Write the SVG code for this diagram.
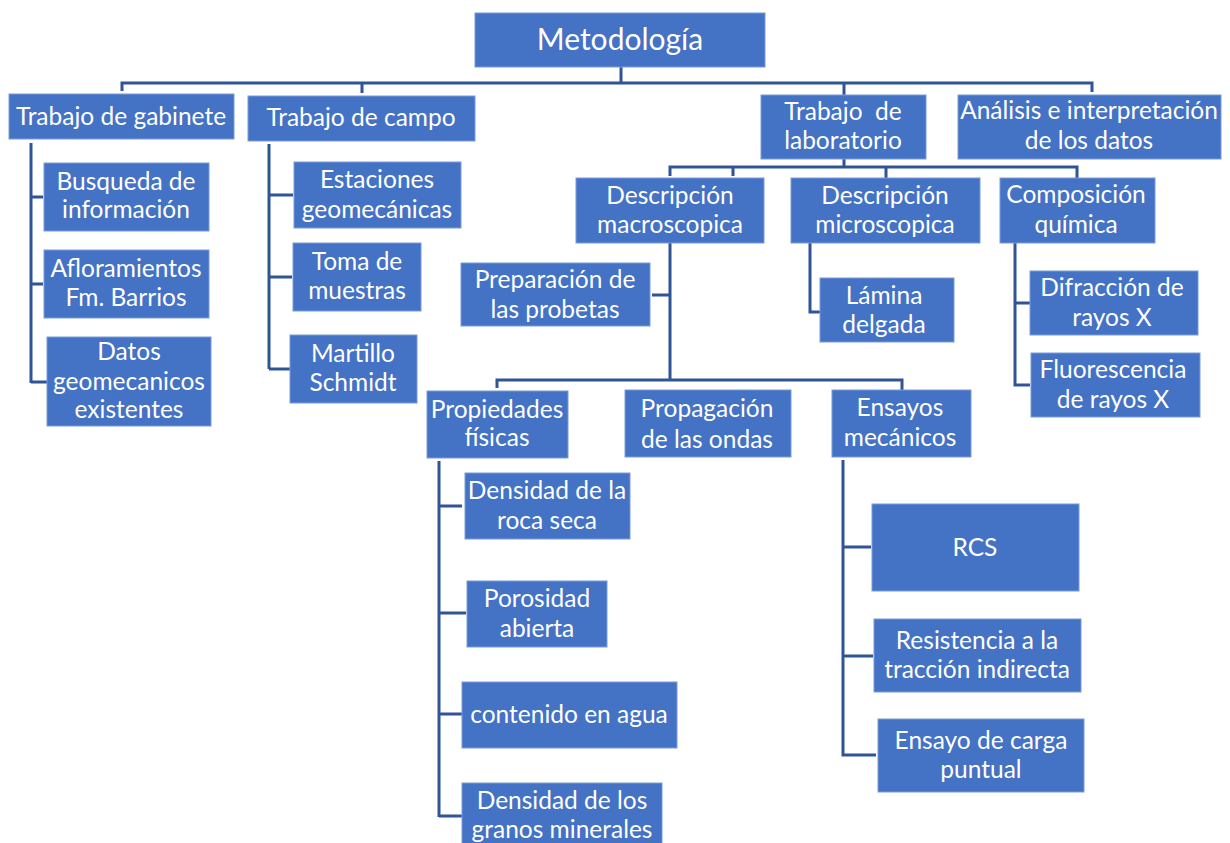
<svg xmlns="http://www.w3.org/2000/svg" width="1230" height="843" viewBox="0 0 1230 843">
<style>
.b{fill:#4472C4;stroke:#7A9CD9;stroke-width:1}
.t{fill:#fff;font-family:Lato,"Open Sans","Liberation Sans",sans-serif;font-size:24.5px;text-anchor:middle}
.c{fill:none;stroke:#2F5597;stroke-width:3}
</style>
<rect width="1230" height="843" fill="#fff"/>
<g id="connectors">
<path class="c" d="M621 67V83M122 91V83H1092V92M362 83V93M844 83V95"/>
<path class="c" d="M31 143V383M31 197H43M31 284H43M31 382H47"/>
<path class="c" d="M269 144V369M269 195H293M269 277H292M269 369H290"/>
<path class="c" d="M844 159V167M670 176V167H1077V178M733 167V176M886 167V178"/>
<path class="c" d="M670 243V380M652 295H670M497 388V380H902V390"/>
<path class="c" d="M810 243V312H820"/>
<path class="c" d="M1015 243V385H1030M1015 303H1030"/>
<path class="c" d="M439 461V817M439 506H462M439 613H466M439 714H462M439 816H462"/>
<path class="c" d="M843 460V755H876M843 547H871M843 656H873"/>
</g>
<g id="metodologia"><rect class="b" x="475" y="13" width="290" height="54"/><text class="t" x="620" y="50" style="font-size:30px">Metodología</text></g>
<g id="gabinete"><rect class="b" x="9" y="94" width="225" height="45"/><text class="t" x="121" y="125">Trabajo de gabinete</text></g>
<g id="campo"><rect class="b" x="248" y="96" width="227" height="45"/><text class="t" x="361" y="126">Trabajo de campo</text></g>
<g id="laboratorio"><rect class="b" x="761" y="95" width="165" height="64"/><text class="t" x="843" y="120" xml:space="preserve">Trabajo  de</text><text class="t" x="843" y="149">laboratorio</text></g>
<g id="analisis"><rect class="b" x="958" y="95" width="263" height="64"/><text class="t" x="1089" y="119">Análisis e interpretación</text><text class="t" x="1089" y="149">de los datos</text></g>
<g id="busqueda"><rect class="b" x="44" y="163" width="165" height="68"/><text class="t" x="126" y="190">Busqueda de</text><text class="t" x="126" y="218">información</text></g>
<g id="afloramientos"><rect class="b" x="44" y="250" width="165" height="68"/><text class="t" x="126" y="277">Afloramientos</text><text class="t" x="126" y="306">Fm. Barrios</text></g>
<g id="datos"><rect class="b" x="47" y="337" width="164" height="89"/><text class="t" x="129" y="360">Datos</text><text class="t" x="129" y="390">geomecanicos</text><text class="t" x="129" y="418">existentes</text></g>
<g id="estaciones"><rect class="b" x="294" y="162" width="167" height="66"/><text class="t" x="377" y="188">Estaciones</text><text class="t" x="377" y="218">geomecánicas</text></g>
<g id="toma"><rect class="b" x="293" y="243" width="128" height="68"/><text class="t" x="357" y="270">Toma de</text><text class="t" x="357" y="299">muestras</text></g>
<g id="martillo"><rect class="b" x="290" y="335" width="127" height="68"/><text class="t" x="353" y="362">Martillo</text><text class="t" x="353" y="391">Schmidt</text></g>
<g id="macro"><rect class="b" x="576" y="178" width="188" height="65"/><text class="t" x="670" y="204">Descripción</text><text class="t" x="670" y="233">macroscopica</text></g>
<g id="micro"><rect class="b" x="791" y="178" width="189" height="65"/><text class="t" x="885" y="204">Descripción</text><text class="t" x="885" y="233">microscopica</text></g>
<g id="quimica"><rect class="b" x="1000" y="178" width="155" height="65"/><text class="t" x="1076" y="203">Composición</text><text class="t" x="1076" y="233">química</text></g>
<g id="preparacion"><rect class="b" x="461" y="263" width="189" height="63"/><text class="t" x="555" y="288">Preparación de</text><text class="t" x="555" y="318">las probetas</text></g>
<g id="lamina"><rect class="b" x="820" y="278" width="134" height="64"/><text class="t" x="884" y="304">Lámina</text><text class="t" x="884" y="333">delgada</text></g>
<g id="difraccion"><rect class="b" x="1030" y="271" width="168" height="64"/><text class="t" x="1112" y="296">Difracción de</text><text class="t" x="1112" y="326">rayos X</text></g>
<g id="fluorescencia"><rect class="b" x="1031" y="353" width="169" height="64"/><text class="t" x="1113" y="378">Fluorescencia</text><text class="t" x="1113" y="408">de rayos X</text></g>
<g id="propiedades"><rect class="b" x="427" y="391" width="141" height="67"/><text class="t" x="497" y="418">Propiedades</text><text class="t" x="497" y="446">físicas</text></g>
<g id="propagacion"><rect class="b" x="625" y="390" width="166" height="67"/><text class="t" x="707" y="417">Propagación</text><text class="t" x="707" y="448">de las ondas</text></g>
<g id="ensayos"><rect class="b" x="832" y="390" width="139" height="67"/><text class="t" x="900" y="416">Ensayos</text><text class="t" x="900" y="446">mecánicos</text></g>
<g id="densidad-roca"><rect class="b" x="465" y="473" width="165" height="66"/><text class="t" x="547" y="499">Densidad de la</text><text class="t" x="547" y="529">roca seca</text></g>
<g id="porosidad"><rect class="b" x="467" y="581" width="140" height="66"/><text class="t" x="537" y="607">Porosidad</text><text class="t" x="537" y="637">abierta</text></g>
<g id="contenido"><rect class="b" x="462" y="682" width="215" height="66"/><text class="t" x="569" y="723">contenido en agua</text></g>
<g id="densidad-granos"><rect class="b" x="462" y="783" width="200" height="70"/><text class="t" x="562" y="809">Densidad de los</text><text class="t" x="562" y="838">granos minerales</text></g>
<g id="rcs"><rect class="b" x="872" y="504" width="207" height="87"/><text class="t" x="975" y="556">RCS</text></g>
<g id="resistencia"><rect class="b" x="874" y="619" width="207" height="73"/><text class="t" x="977" y="649">Resistencia a la</text><text class="t" x="977" y="678">tracción indirecta</text></g>
<g id="carga"><rect class="b" x="878" y="719" width="206" height="73"/><text class="t" x="981" y="749">Ensayo de carga</text><text class="t" x="981" y="778">puntual</text></g>
</svg>
